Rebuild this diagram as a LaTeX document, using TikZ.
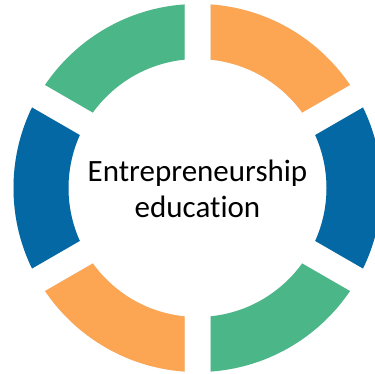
\documentclass[tikz,border=0pt]{standalone}
\usepackage{fontspec}
\setmainfont{Carlito}[Ligatures={NoCommon,NoRare,NoContextual}]
\usetikzlibrary{calc}
\definecolor{segGreen}{RGB}{75,183,137}
\definecolor{segOrange}{RGB}{252,165,82}
\definecolor{segBlue}{RGB}{3,104,164}
\newcommand\ringseg[2]{%
  \begin{scope}
    \clip ($(C)+({#1}:26)$) -- ++({#1-30}:400) -- ($(C)+({#1}:26)+({#1+30}:400)$) -- cycle;
    \fill[black, opacity=0.12, even odd rule, shift={(1.2,-2)}] (C) circle[radius=184] (C) circle[radius=129];
    \fill[#2, even odd rule] (C) circle[radius=184] (C) circle[radius=129];
  \end{scope}}
\tikzset{label text/.style={font=\fontsize{31}{36}\selectfont, text=black, inner sep=0pt, anchor=base}}
\begin{document}
\begin{tikzpicture}[x=1pt,y=1pt]
\useasboundingbox (0,0) rectangle (375,374);
\fill[white] (0,0) rectangle (375,374);
\clip (0,0) rectangle (375,374);
\coordinate (C) at (197.5,186);
\ringseg{60}{segOrange}
\ringseg{0}{segBlue}
\ringseg{-60}{segGreen}
\ringseg{-120}{segOrange}
\ringseg{180}{segBlue}
\ringseg{120}{segGreen}
\node[label text] (t1) at (197.5,192) {Entrepreneurship};
\node[label text] (t2) at (197.5,156) {education};
\end{tikzpicture}
\end{document}
